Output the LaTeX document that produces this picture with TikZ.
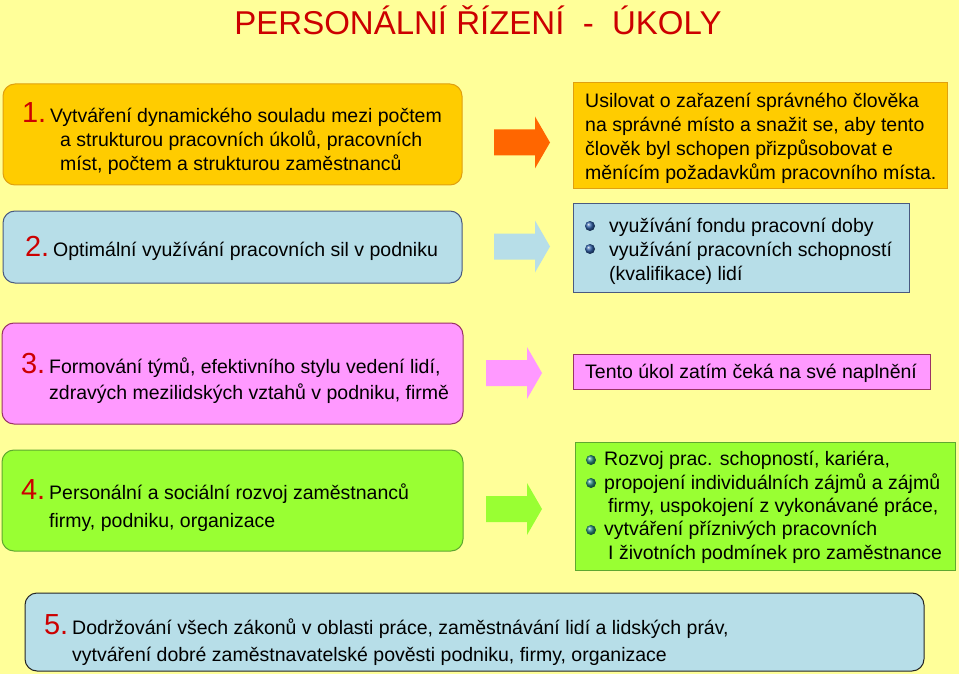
\documentclass[tikz,border=0pt]{standalone}
\usepackage{fontspec}
\setmainfont{Liberation Sans}
\usepackage{tikz}

\definecolor{bgyellow}{HTML}{FFFF99}
\definecolor{titlered}{HTML}{CC0000}
\definecolor{goldfill}{HTML}{FFCC00}
\definecolor{golddraw}{HTML}{E0A010}
\definecolor{arrowred}{HTML}{FF6600}
\definecolor{bluefill}{HTML}{B7DEE8}
\definecolor{bluedraw}{HTML}{4A5A80}
\definecolor{pinkfill}{HTML}{FF99FF}
\definecolor{pinkdraw}{HTML}{993366}
\definecolor{greenfill}{HTML}{99FF33}
\definecolor{greendraw}{HTML}{5FA830}
\definecolor{balltop}{HTML}{2F5FA8}
\definecolor{ballgreen}{HTML}{2A8C7C}

\newcommand{\bignum}[1]{\llap{{\color{titlered}\fontsize{29}{29}\selectfont #1}\hspace{4pt}}}

\begin{document}
\begin{tikzpicture}[x=1pt,y=-1pt,
    txt/.style={inner sep=0pt, align=left, anchor=base west, font=\fontsize{19.5}{24}\selectfont},
    roundbox/.style={rounded corners=12pt, line width=1pt},
    flatbox/.style={line width=1pt}]

    % Background and title
    \fill[bgyellow] (0,0) rectangle (959,674);
    \node[text=titlered, font=\fontsize{33}{33}\selectfont, anchor=base] (title) at (478,35)
        {PERSONÁLNÍ ŘÍZENÍ ~-~ ÚKOLY};

    % Left column boxes
    \draw[roundbox, fill=goldfill, draw=golddraw] (3,84) rectangle (462,185);
    \draw[roundbox, fill=bluefill, draw=bluedraw] (3,211) rectangle (462,283);
    \draw[roundbox, fill=pinkfill, draw=pinkdraw] (2,323) rectangle (463,424);
    \draw[roundbox, fill=greenfill, draw=greendraw] (2,450) rectangle (463,551);
    \draw[roundbox, fill=bluefill, draw=black!85] (25,593) rectangle (924,671);

    % Right column boxes
    \draw[flatbox, fill=goldfill, draw=golddraw] (573,83) rectangle (947,189);
    \draw[flatbox, fill=bluefill, draw=bluedraw] (573,203) rectangle (909,292);
    \draw[flatbox, fill=pinkfill, draw=pinkdraw] (573,354) rectangle (930,389);
    \draw[flatbox, fill=greenfill, draw=greendraw] (575,442) rectangle (955,570);

    % Block arrows
    \foreach \ax/\ay/\col in {494/142.5/arrowred, 494/246.5/bluefill, 486/373/pinkfill, 486/509/greenfill}
        \fill[\col] (\ax,\ay-13) -- ++(41,0) -- ++(0,-13) -- ++(15,26) -- ++(-15,26)
            -- ++(0,-13) -- ++(-41,0) -- cycle;

    % Texts of the left boxes (base = last line)
    \node[txt] (taskone) at (50,171) {\bignum{1.}Vytváření dynamického souladu mezi počtem\\
        \hspace*{10pt}a strukturou pracovních úkolů, pracovních\\
        \hspace*{10pt}míst, počtem a strukturou zaměstnanců};
    \node[txt] (tasktwo) at (53,256) {\bignum{2.}Optimální využívání pracovních sil v podniku};
    \node[txt] (taskthree) at (49,399) {\bignum{3.}Formování týmů, efektivního stylu vedení lidí,\\[2pt]
        zdravých mezilidských vztahů v podniku, firmě};
    \node[txt] (taskfour) at (49,527) {\bignum{4.}Personální a sociální rozvoj zaměstnanců\\[4pt]
        firmy, podniku, organizace};
    \node[txt] (taskfive) at (72,661) {\bignum{5.}Dodržování všech zákonů v oblasti práce, zaměstnávání lidí a lidských práv,\\[3pt]
        vytváření dobré zaměstnavatelské pověsti podniku, firmy, organizace};

    % Texts of the right boxes
    \node[txt] (goalone) at (585,179) {Usilovat o zařazení správného člověka\\
        na správné místo a snažit se, aby tento\\
        člověk byl schopen přizpůsobovat e\\
        měnícím požadavkům pracovního místa.};
    \node[txt] (goaltwo) at (609,280) {využívání fondu pracovní doby\\
        využívání pracovních schopností\\
        (kvalifikace) lidí};
    \node[txt] (goalthree) at (585,378) {Tento úkol zatím čeká na své naplnění};
    \node[txt, font=\fontsize{19.5}{23.3}\selectfont] (goalfour) at (604,559) {Rozvoj prac. schopností, kariéra,\\
        propojení individuálních zájmů a zájmů\\
        \hspace*{4pt}firmy, uspokojení z vykonávané práce,\\
        vytváření příznivých pracovních\\
        \hspace*{4pt}I životních podmínek pro zaměstnance};

    % Bullets
    \foreach \by in {226,249}
        \shade[ball color=balltop] (590,\by) circle (5);
    \foreach \by in {460,483,530}
        \shade[ball color=ballgreen] (591,\by) circle (5);
\end{tikzpicture}
\end{document}
